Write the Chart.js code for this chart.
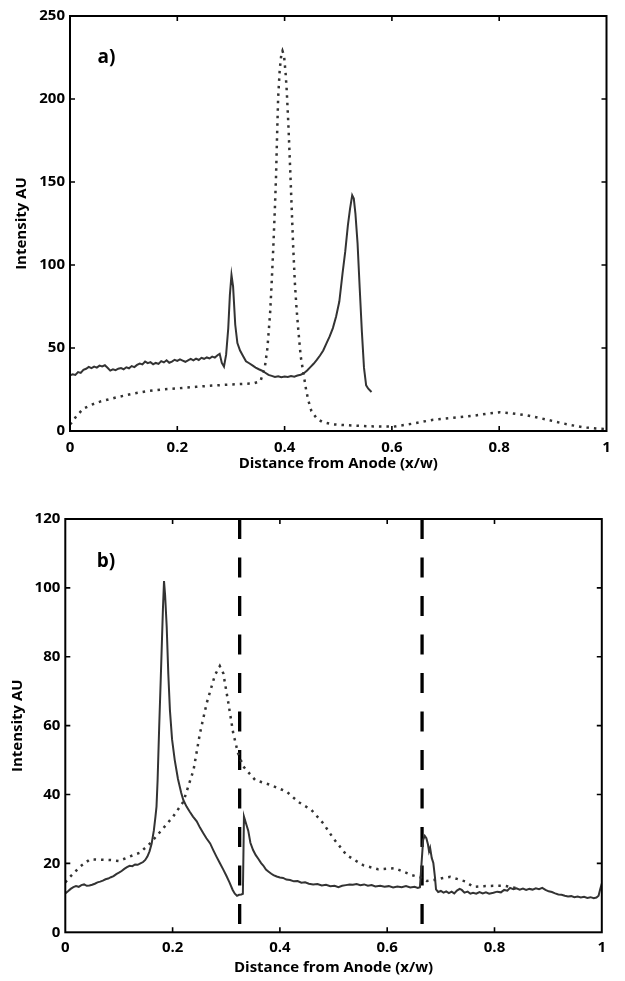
<!DOCTYPE html>
<html><head><meta charset="utf-8">
<script src="https://cdn.jsdelivr.net/npm/chart.js@4"></script>
<style>
html,body{margin:0;padding:0;background:#fff;}
#wa{position:absolute;left:0;top:0;width:625px;height:490px;}
#wb{position:absolute;left:0;top:490px;width:625px;height:491px;}
</style></head><body>
<div id="wa"><canvas id="ca" width="625" height="490"></canvas></div>
<div id="wb"><canvas id="cb" width="625" height="491"></canvas></div>
<script>
// ---------- data ----------
const xTicks = [0, 0.2, 0.4, 0.6, 0.8, 1];
const yTicksA = [0, 50, 100, 150, 200, 250];
const yTicksB = [0, 20, 40, 60, 80, 100, 120];
const xLabel = 'Distance from Anode (x/w)';
const yLabel = 'Intensity AU';
const panelLabels = ['a)', 'b)'];

// panel a: solid trace [x, intensity]
const aSolid = [[0,33.5],[.005,34.2],[.01,33.8],[.015,35.5],[.02,35.0],[.025,36.8],[.03,37.5],[.035,38.6],[.04,37.9],[.045,38.8],[.05,38.2],[.055,39.4],[.06,38.9],[.065,39.6],[.07,38.1],[.075,36.4],[.08,37.2],[.085,36.6],[.09,37.5],[.095,37.9],[.1,37.2],[.105,38.4],[.11,37.8],[.115,39.1],[.12,38.5],[.125,39.8],[.13,40.6],[.135,40.1],[.14,41.8],[.145,40.9],[.15,41.5],[.155,40.2],[.16,41.0],[.165,40.4],[.17,42.1],[.175,41.3],[.18,42.6],[.185,41.1],[.19,41.8],[.195,42.9],[.2,42.2],[.205,43.1],[.21,42.4],[.215,41.7],[.22,42.6],[.225,43.4],[.23,42.5],[.235,43.6],[.24,42.8],[.245,44.1],[.25,43.5],[.255,44.3],[.26,43.7],[.265,44.8],[.27,44.2],[.275,45.6],[.279,46.5],[.283,41],[.287,38.8],[.291,46],[.295,62],[.298,82],[.301,94],[.304,87],[.308,64],[.312,53],[.317,48.5],[.322,45.5],[.328,42],[.334,40.8],[.34,39.5],[.346,38.2],[.352,37.2],[.358,36.3],[.364,35.1],[.37,33.8],[.376,33.2],[.382,32.6],[.388,33.0],[.394,32.4],[.4,32.8],[.406,32.5],[.412,33.1],[.418,32.7],[.424,33.4],[.43,33.9],[.436,34.8],[.442,36.5],[.448,38.5],[.454,40.5],[.46,42.8],[.466,45.5],[.472,48.5],[.478,52.8],[.484,57],[.49,62],[.496,69],[.502,78],[.508,95],[.513,108],[.518,124],[.522,134],[.526,142],[.529,140],[.532,131],[.536,113],[.54,86],[.544,60],[.548,38],[.552,27.5],[.556,25.5],[.562,23.5]];

// panel a: dotted trace
const aDotted = [[0,4],[.003,5],[.012,9],[.025,13.5],[.04,15.8],[.056,17.7],[.087,20.3],[.115,22.3],[.143,24],[.17,25],[.2,25.7],[.235,26.6],[.267,27.4],[.3,28],[.342,28.7],[.355,30],[.363,38],[.368,50],[.373,71],[.376,90],[.379,111],[.382,135],[.384,153],[.386,178],[.388,201],[.391,218],[.394,227],[.396,229],[.399,226],[.402,215],[.404,205],[.407,185],[.41,161],[.413,136],[.416,111],[.419,90],[.422,75],[.4255,61],[.43,45],[.435,35],[.44,25],[.444,18.7],[.45,12],[.46,7.5],[.47,5.5],[.49,4],[.52,3.4],[.56,2.8],[.603,2.6],[.64,4.5],[.677,6.8],[.715,8],[.752,9.2],[.78,10.5],[.801,11.3],[.825,10.6],[.851,9.5],[.88,7.5],[.913,5],[.935,3.5],[.957,2.2],[.98,1.5],[1.0,1.2]];

// panel b: solid trace
const bSolid = [[0,11.3],[.005,11.9],[.01,12.6],[.015,13.1],[.02,13.4],[.025,13.2],[.03,13.7],[.035,13.9],[.04,13.5],[.045,13.6],[.05,13.8],[.055,14.1],[.06,14.5],[.065,14.7],[.07,15.0],[.075,15.4],[.08,15.6],[.085,16.0],[.09,16.3],[.095,16.9],[.1,17.3],[.105,17.8],[.11,18.4],[.115,18.9],[.12,19.3],[.125,19.2],[.13,19.7],[.135,19.6],[.14,20.0],[.145,20.4],[.149,21.0],[.153,22.0],[.157,23.5],[.161,25.8],[.165,29.5],[.168,33.5],[.17,36.5],[.172,44],[.175,59.7],[.178,74],[.18,84],[.182,94],[.184,102],[.186,98],[.189,88.7],[.192,75],[.195,64.5],[.199,56],[.204,50],[.21,44.5],[.216,40.5],[.22,38.4],[.226,36.5],[.232,35],[.238,33.6],[.245,32.2],[.251,30.4],[.257,28.8],[.263,27.3],[.27,25.8],[.276,23.8],[.282,21.9],[.288,20.1],[.2945,18.2],[.3,16.5],[.306,14.5],[.312,12.3],[.316,11.2],[.32,10.6],[.324,10.9],[.328,11.0],[.331,11.2],[.333,33.6],[.337,31.5],[.341,29.5],[.345,26],[.35,23.9],[.355,22.4],[.36,21.3],[.365,20.1],[.369,19.4],[.374,18.2],[.379,17.6],[.384,17.0],[.388,16.6],[.394,16.2],[.4,15.9],[.406,15.8],[.412,15.3],[.419,15.2],[.426,14.8],[.433,14.9],[.44,14.4],[.447,14.5],[.454,14.1],[.462,13.9],[.47,14.0],[.478,13.6],[.486,13.8],[.494,13.4],[.502,13.5],[.509,13.1],[.516,13.5],[.523,13.7],[.53,13.9],[.536,13.8],[.543,14.0],[.55,13.7],[.557,13.9],[.564,13.5],[.571,13.7],[.578,13.3],[.587,13.5],[.595,13.2],[.603,13.4],[.611,13.0],[.619,13.3],[.627,13.1],[.635,13.4],[.643,13.0],[.651,13.2],[.657,12.9],[.661,13.1],[.664,20],[.667,26.8],[.67,28],[.673,27.3],[.676,25.5],[.678,23.5],[.68,24.5],[.683,21.6],[.686,20.1],[.689,16],[.691,12.5],[.695,11.7],[.7,12.0],[.705,11.5],[.71,11.9],[.715,11.4],[.72,11.8],[.725,11.3],[.73,12.1],[.735,12.6],[.739,12.3],[.744,11.5],[.75,11.8],[.755,11.2],[.76,11.5],[.766,11.2],[.772,11.7],[.778,11.3],[.784,11.6],[.79,11.2],[.798,11.5],[.805,11.8],[.812,11.6],[.818,12.3],[.824,12.1],[.829,12.9],[.835,12.5],[.841,12.8],[.847,12.4],[.853,12.7],[.859,12.3],[.865,12.6],[.871,12.4],[.877,12.8],[.883,12.5],[.889,12.9],[.895,12.3],[.901,11.9],[.907,11.7],[.913,11.3],[.919,11.0],[.925,10.9],[.931,10.6],[.937,10.4],[.943,10.5],[.949,10.2],[.955,10.4],[.961,10.1],[.967,10.3],[.973,10.0],[.979,10.2],[.985,9.9],[.99,10.1],[.994,10.6],[.997,12.5],[1.0,14.2]];

// panel b: dotted trace
const bDotted = [[0,14.5],[.009,16.1],[.027,19],[.046,21.2],[.065,21.1],[.083,21],[.1,20.7],[.12,22],[.139,23.1],[.158,25.8],[.177,29.2],[.201,33.6],[.22,37.9],[.239,47.1],[.251,57.8],[.2635,66.5],[.279,74.7],[.288,77.3],[.2945,75.2],[.304,66.5],[.313,57.8],[.322,52],[.332,48.1],[.354,44.2],[.382,42.8],[.413,40.8],[.434,37.9],[.459,35.5],[.481,31.6],[.4995,27.3],[.5245,22.4],[.555,19.5],[.583,18.3],[.6145,18.6],[.646,16.6],[.661,16],[.674,14.9],[.6875,15.2],[.7015,15.7],[.717,16.1],[.73,15.5],[.745,14.8],[.7605,13.2],[.78,13.4],[.798,13.5],[.82,13.5],[.841,12.8]];

// panel b: vertical dashed marker positions (x/w)
const bMarkers = [0.325, 0.665];

// ---------- helpers ----------
const FONT = "'Open Sans', 'DejaVu Sans', sans-serif";
const toXY = arr => arr.map(([x, y]) => ({x, y}));

const framePlugin = {
  id: 'frame',
  afterDatasetsDraw(chart, args, opts) {
    const {ctx, chartArea: {left, right, top, bottom}, scales: {x, y}} = chart;
    ctx.save();
    ctx.strokeStyle = '#000';
    ctx.lineWidth = 2;
    ctx.strokeRect(left, top, right - left, bottom - top);
    ctx.lineWidth = 1.6;
    const L = 5;
    ctx.beginPath();
    x.ticks.forEach(t => {
      if (t.value <= x.min || t.value >= x.max) return;
      const p = x.getPixelForValue(t.value);
      ctx.moveTo(p, bottom); ctx.lineTo(p, bottom - L);
      ctx.moveTo(p, top); ctx.lineTo(p, top + L);
    });
    y.ticks.forEach(t => {
      if (t.value <= y.min || t.value >= y.max) return;
      const p = y.getPixelForValue(t.value);
      ctx.moveTo(left, p); ctx.lineTo(left + L, p);
      ctx.moveTo(right, p); ctx.lineTo(right - L, p);
    });
    ctx.stroke();
    ctx.fillStyle = '#000';
    ctx.font = 'bold 19px ' + FONT;
    ctx.textBaseline = 'alphabetic';
    ctx.textAlign = 'left';
    ctx.fillText(opts.label, left + opts.dx, top + opts.dy);
    ctx.restore();
  }
};

function makeOptions(cfg) {
  return {
    responsive: false,
    animation: false,
    events: [],
    layout: {padding: {left: 0, top: cfg.padTop, right: cfg.padRight, bottom: 0}},
    plugins: {
      legend: {display: false},
      tooltip: {enabled: false},
      frame: {label: cfg.label, dx: cfg.labelDx, dy: cfg.labelDy}
    },
    elements: {point: {radius: 0}, line: {tension: 0}},
    scales: {
      x: {
        type: 'linear', min: 0, max: 1,
        afterBuildTicks: s => { s.ticks = xTicks.map(v => ({value: v})); },
        afterFit: s => { s.height = cfg.xAxisH; },
        grid: {display: false, drawTicks: false},
        border: {display: false},
        ticks: {color: '#000', font: {family: FONT, size: 15, weight: 'bold'}, padding: cfg.xTickPad, maxRotation: 0,
                callback: v => String(v)},
        title: {display: true, text: xLabel, color: '#000', font: {family: FONT, size: 15, weight: 'bold'},
                padding: {top: 0, bottom: cfg.xTitlePad}}
      },
      y: {
        type: 'linear', min: 0, max: cfg.yMax,
        afterBuildTicks: s => { s.ticks = cfg.yTicks.map(v => ({value: v})); },
        afterFit: s => { s.width = cfg.yAxisW; },
        grid: {display: false, drawTicks: false},
        border: {display: false},
        ticks: {color: '#000', font: {family: FONT, size: 15, weight: 'bold'}, padding: 5},
        title: {display: true, text: yLabel, color: '#000', font: {family: FONT, size: 15, weight: 'bold'},
                padding: {top: cfg.yTitlePad, bottom: 0}}
      }
    }
  };
}

const solidStyle = {borderColor: '#333', borderWidth: 2, pointRadius: 0, fill: false};
const dotStyle = {borderColor: '#333', borderWidth: 2.5, borderDash: [2.5, 5], borderCapStyle: 'butt', pointRadius: 0, fill: false};

new Chart(document.getElementById('ca'), {
  type: 'line',
  data: {
    datasets: [
      Object.assign({label: 'solid', data: toXY(aSolid)}, solidStyle),
      Object.assign({label: 'dotted', data: toXY(aDotted)}, dotStyle)
    ]
  },
  options: makeOptions({padTop: 16, padRight: 18.5, xAxisH: 59, yAxisW: 70, xTickPad: 7.5, xTitlePad: 17,
                        yTitlePad: 13, yMax: 250, yTicks: yTicksA, label: panelLabels[0], labelDx: 27.5, labelDy: 46.5}),
  plugins: [framePlugin]
});

const markerSets = bMarkers.map((m, i) => ({
  label: 'marker' + i,
  data: [{x: m, y: 120}, {x: m, y: 0}],
  borderColor: '#000', borderWidth: 3.3, borderDash: [20, 18.5], borderCapStyle: 'butt', pointRadius: 0, fill: false
}));

new Chart(document.getElementById('cb'), {
  type: 'line',
  data: {
    datasets: [
      Object.assign({label: 'solid', data: toXY(bSolid)}, solidStyle),
      Object.assign({label: 'dotted', data: toXY(bDotted)}, dotStyle),
      ...markerSets
    ]
  },
  options: makeOptions({padTop: 29, padRight: 23.2, xAxisH: 48.7, yAxisW: 65.3, xTickPad: 6.4, xTitlePad: 4.7,
                        yTitlePad: 8.5, yMax: 120, yTicks: yTicksB, label: panelLabels[1], labelDx: 31.4, labelDy: 47.7}),
  plugins: [framePlugin]
});
</script>
</body></html>
